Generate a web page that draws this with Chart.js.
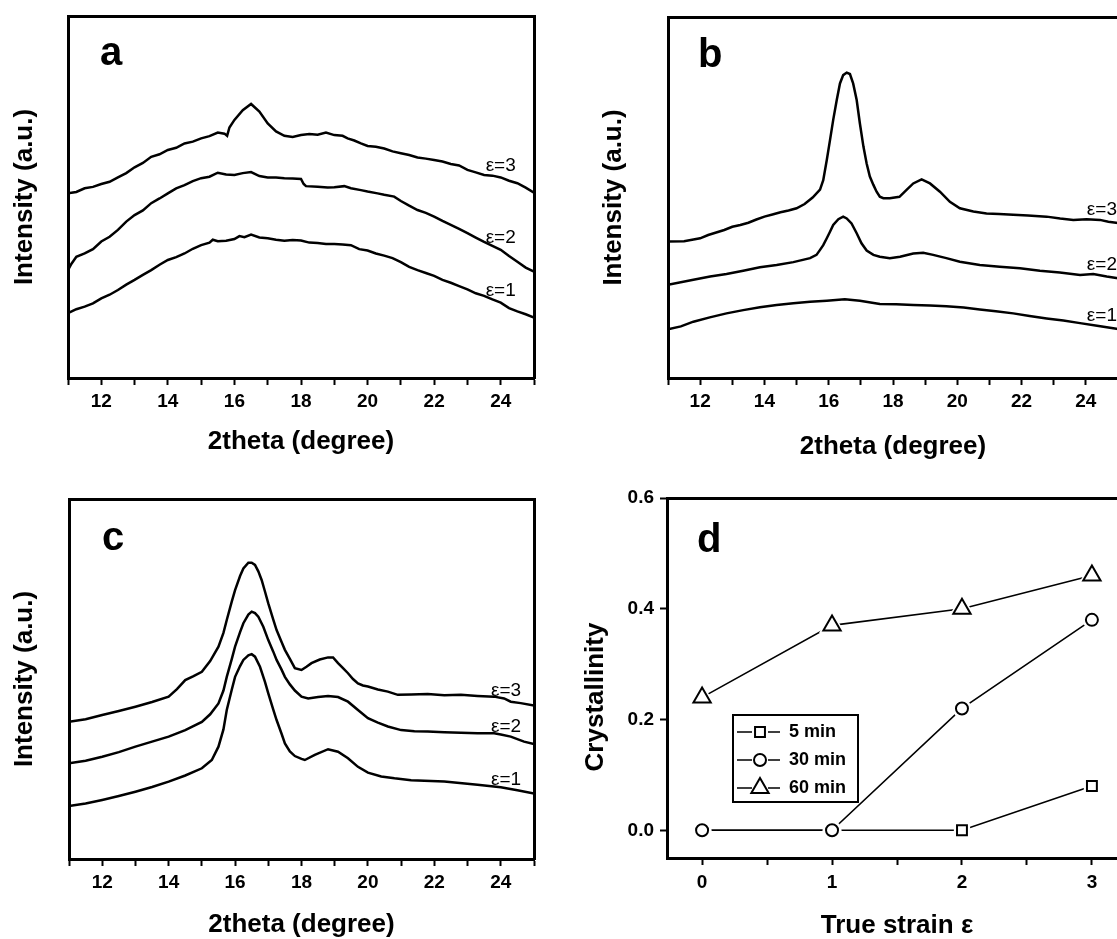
<!DOCTYPE html>
<html><head><meta charset="utf-8">
<script src="https://cdn.jsdelivr.net/npm/chart.js@4.4.1/dist/chart.umd.min.js"></script>
<style>
html,body{margin:0;padding:0;background:#fff;}
body{width:1117px;height:939px;overflow:hidden;position:relative;}
.p{position:absolute;}
</style></head><body>
<div class="p" style="left:0;top:0;width:560px;height:470px"><canvas id="ca"></canvas></div>
<div class="p" style="left:557px;top:0;width:600px;height:470px"><canvas id="cb"></canvas></div>
<div class="p" style="left:0;top:470px;width:560px;height:480px"><canvas id="cc"></canvas></div>
<div class="p" style="left:557px;top:470px;width:600px;height:480px"><canvas id="cd"></canvas></div>
<script>
// ================= DATA =================
const xrdTickVals = [11,12,13,14,15,16,17,18,19,20,21,22,23,24,25];
const xrdTickLabels = [12,14,16,18,20,22,24];
const xrdXTitle = '2theta (degree)';
const xrdYTitle = 'Intensity (a.u.)';
const curveNames = ['\u03b5=1','\u03b5=2','\u03b5=3'];

// panel a
const aX3 = [11,11.25,11.5,11.75,12,12.25,12.5,12.75,13,13.25,13.5,13.75,14,14.25,14.5,14.75,15,15.25,15.5,15.7,15.78,15.85,16,16.25,16.5,16.75,17,17.25,17.5,17.75,18,18.25,18.5,18.75,19,19.25,19.4,19.6,19.8,20,20.25,20.5,20.75,21,21.25,21.5,21.75,22,22.25,22.5,22.75,23,23.25,23.5,23.75,24,24.25,24.5,24.75,25];
const aY3 = [51.0,51.4,52.4,52.8,53.6,54.2,55.4,56.6,58.2,59.4,61.1,61.8,63.0,63.6,64.8,65.3,66.2,66.8,67.8,67.5,66.9,69.2,71.3,74.0,75.7,73.6,70.3,68.1,66.9,66.6,67.1,67.4,67.2,67.8,67.1,66.9,66.2,65.6,64.8,64.1,63.9,63.4,62.6,62.1,61.6,60.9,60.6,60.2,59.8,59.1,58.7,57.5,56.8,56.1,55.9,55.4,54.5,53.8,52.6,51.2];
const aX2 = [11,11.1,11.25,11.5,11.75,12,12.25,12.5,12.75,13,13.25,13.5,13.75,14,14.25,14.5,14.75,15,15.25,15.5,15.75,16,16.25,16.5,16.75,17,17.25,17.5,17.75,18,18.08,18.15,18.5,18.8,19,19.3,19.5,19.8,20,20.3,20.5,20.8,21,21.25,21.5,21.75,22,22.25,22.5,22.75,23,23.25,23.5,23.75,24,24.25,24.5,24.75,25];
const aY2 = [29.8,31.5,33.5,34.4,35.6,37.7,39.0,40.9,43.2,45.0,46.3,48.3,49.6,51.0,52.4,53.3,54.4,55.2,55.6,56.7,56.2,56.1,56.6,56.9,55.8,55.4,55.4,55.2,55.1,55.0,53.6,53.0,52.8,52.6,52.7,53.0,52.4,51.9,51.5,51.0,50.6,50.1,48.9,47.6,46.4,45.6,44.6,43.4,42.3,41.2,40.0,38.8,37.6,36.5,35.4,33.7,32.1,30.5,29.4];
const aX1 = [11,11.25,11.5,11.75,12,12.25,12.5,12.75,13,13.25,13.5,13.75,14,14.25,14.5,14.75,15,15.25,15.35,15.5,15.75,16,16.15,16.3,16.5,16.75,17,17.25,17.5,17.75,18,18.25,18.5,18.75,19,19.25,19.5,19.75,20,20.25,20.5,20.75,21,21.25,21.5,21.75,22,22.25,22.5,22.75,23,23.25,23.5,23.75,24,24.25,24.5,24.75,25];
const aY1 = [17.9,19.0,19.7,20.6,22.0,23.0,24.3,25.8,27.1,28.5,29.8,31.3,32.6,33.4,34.4,35.7,36.7,37.4,38.2,37.8,37.9,38.4,39.2,38.9,39.6,38.8,38.6,38.2,37.9,38.1,38.0,37.4,37.3,37.0,37.0,36.9,36.7,35.6,35.2,34.4,33.8,33.1,32.0,30.7,29.8,29.0,28.2,27.1,26.3,25.4,24.5,23.4,22.7,21.7,20.8,19.3,18.4,17.6,16.7];

// panel b
const bX3 = [11,11.5,12,12.25,12.5,12.75,13,13.25,13.5,13.75,14,14.25,14.5,14.75,15,15.25,15.5,15.73,15.83,15.94,16.04,16.14,16.25,16.35,16.45,16.56,16.66,16.76,16.87,16.97,17.08,17.18,17.28,17.39,17.49,17.59,17.7,17.9,18.2,18.43,18.63,18.89,19.15,19.46,19.77,20.08,20.5,20.91,21.3,21.74,22.2,22.78,23.2,23.61,24.02,24.44,24.7,25];
const bY3 = [37.8,37.9,38.7,39.6,40.3,41.0,41.9,42.4,43.0,43.9,44.7,45.3,45.9,46.4,47.0,48.2,50.0,52.2,54.8,60.4,65.9,71.5,77.0,81.6,83.9,84.6,84.2,81.6,77.0,70.5,64.1,59.4,55.8,53.5,51.6,50.2,49.8,49.8,50.2,52.2,53.9,55.0,53.9,51.6,48.8,47.0,46.1,45.6,45.4,45.2,45.0,44.7,44.2,43.8,44.0,43.8,43.3,42.9];
const bX2 = [11,11.79,12.31,12.82,13.34,13.86,14.38,14.9,15.42,15.62,15.73,15.83,15.94,16.04,16.14,16.3,16.45,16.56,16.71,16.87,17.02,17.18,17.39,17.59,17.9,18.22,18.63,18.94,19.25,19.66,20.08,20.7,21.32,21.95,22.57,23.19,23.82,24.23,24.65,25];
const bY2 = [25.8,27.2,28.1,28.8,29.7,30.7,31.3,32.1,33.2,34.1,35.5,36.8,38.7,40.5,42.4,44.0,44.7,44.2,42.8,40.1,37.3,35.3,34.1,33.6,33.2,33.6,34.5,34.7,34.1,33.2,32.2,31.3,30.8,30.4,29.7,29.2,28.5,28.8,28.1,27.6];
const bX1 = [11,11.4,11.79,12.3,12.82,13.34,13.86,14.38,14.9,15.42,15.94,16.5,16.97,17.59,18.1,18.63,19.15,19.66,20.2,20.7,21.2,21.74,22.25,22.78,23.3,23.82,24.35,24.85,25];
const bY1 = [13.5,14.3,15.6,16.8,17.9,18.8,19.6,20.2,20.7,21.1,21.4,21.8,21.4,20.5,20.4,20.2,20.1,19.9,19.5,19.0,18.5,17.9,17.2,16.5,15.9,15.2,14.5,13.8,13.6];

// panel c
const cX3 = [11,11.5,12,12.5,13,13.5,14,14.25,14.5,14.75,15,15.25,15.5,15.65,15.75,15.9,16,16.15,16.25,16.4,16.5,16.6,16.7,16.8,16.9,17,17.15,17.25,17.4,17.5,17.65,17.8,18,18.15,18.3,18.55,18.8,18.95,19.1,19.25,19.4,19.55,19.7,19.85,20,20.3,20.6,20.9,21.3,21.8,22.3,22.8,23.3,23.8,24.1,24.3,24.6,25];
const cY3 = [38.1,38.8,40.0,41.1,42.3,43.6,45.1,47.2,49.7,50.8,52.0,55.0,59.0,62.8,66.4,71.5,74.7,78.6,80.7,82.3,82.3,81.7,79.9,77.5,74.3,71.0,66.5,63.6,60.3,58.1,55.6,53.0,52.5,53.4,54.4,55.4,56.0,56.0,54.4,53.0,51.6,50.0,48.8,48.2,47.9,47.1,46.5,45.6,45.7,45.8,45.5,45.6,45.3,45.1,44.6,43.7,43.3,42.6];
const cX2 = [11,11.5,12,12.5,13,13.5,14,14.5,15,15.25,15.5,15.65,15.75,15.9,16,16.15,16.25,16.4,16.5,16.6,16.7,16.85,17,17.15,17.25,17.4,17.5,17.65,17.8,18,18.2,18.5,18.8,19.1,19.4,19.7,20,20.3,20.6,21,21.4,21.8,22.3,22.8,23.3,23.8,24,24.3,24.7,25];
const cY2 = [26.6,27.3,28.4,29.7,31.2,32.6,34.0,35.8,38.1,40.2,43.2,46.8,50.6,55.5,59.0,63.0,65.5,67.9,68.7,68.3,67.3,64.5,60.8,57.6,55.3,52.6,50.6,48.5,46.8,45.1,44.6,45.0,45.3,45.0,43.7,41.4,39.1,37.9,36.8,35.8,35.5,35.4,35.2,35.1,34.9,34.9,34.6,34.0,32.6,31.9];
const cX1 = [11,11.5,12,12.5,13,13.5,14,14.5,15,15.3,15.5,15.65,15.75,15.9,16,16.15,16.25,16.4,16.5,16.6,16.75,16.9,17,17.15,17.25,17.4,17.5,17.65,17.8,18,18.1,18.4,18.8,19.1,19.4,19.7,20,20.4,20.8,21.3,22.3,23.3,24,24.5,25];
const cY1 = [14.7,15.4,16.4,17.5,18.7,20.0,21.5,23.2,25.2,27.5,31.2,36.0,41.4,47.0,50.6,53.6,55.3,56.6,56.9,56.2,53.4,49.2,46.0,41.5,38.6,34.8,32.1,29.9,28.6,27.8,27.5,28.9,30.5,29.8,28.0,25.6,24.0,22.9,22.4,21.9,21.5,20.6,19.9,19.1,18.2];

// panel d
const strain = [0,1,2,3];
const cryst5 = [0,0,0,0.08];
const cryst30 = [0,0,0.22,0.38];
const cryst60 = [0.24,0.37,0.40,0.46];
const seriesNames = ['5 min','30 min','60 min'];
const strainTickVals = [0,0.5,1,1.5,2,2.5,3];
const strainTickLabels = [0,1,2,3];
const crystTickVals = [0,0.2,0.4,0.6];
const dXTitle = 'True strain \u03b5';
const dYTitle = 'Crystallinity';

// ================= STYLE / LAYOUT =================
const FONT = "'Liberation Sans', Arial, Helvetica, sans-serif";
Chart.defaults.font.family = FONT;
Chart.defaults.color = '#000';

const decor = {
  ca: { letter: {t:'a', x:100, y:65}, clX: 24.0, clOff: 12 },
  cb: { letter: {t:'b', x:141, y:67}, clX: 24.5, clOff: 11 },
  cc: { letter: {t:'c', x:102, y:80}, clX: 24.16, clOff: 9 },
  cd: { letter: {t:'d', x:140, y:82}, yTitle: {x:39, y:227},
        legend: {x:176, y:245, w:125, h:87, rows:[262,290,318], lineL:[180,195], mark:203, lineR:[211,223], textX:232} }
};

function toPts(xs, ys) {
  const n = Math.min(xs.length, ys.length);
  const out = [];
  for (let i = 0; i < n; i++) out.push({x: xs[i], y: ys[i]});
  return out;
}

function frame(pos) {
  return { type: 'linear', position: pos, display: true, min: 0, max: 1,
    ticks: { display: false }, grid: { display: false, drawTicks: false },
    border: { display: true, color: '#000', width: 3 },
    afterFit: s => { if (pos === 'top' || pos === 'bottom') s.height = 0; else s.width = 0; } };
}

const annotPlugin = {
  id: 'annot',
  afterDraw(chart) {
    const d = decor[chart.canvas.id];
    if (!d) return;
    const ctx = chart.ctx;
    ctx.save();
    ctx.fillStyle = '#000';
    if (d.clX !== undefined) {
      const xs = chart.scales.x, ys = chart.scales.y;
      ctx.font = '19px ' + FONT;
      ctx.textAlign = 'center';
      ctx.textBaseline = 'middle';
      chart.data.datasets.forEach(ds => {
        const p = ds.data;
        let yv = p[p.length - 1].y;
        for (let k = 0; k < p.length - 1; k++) {
          if (p[k].x <= d.clX && p[k + 1].x >= d.clX) {
            const t = (d.clX - p[k].x) / (p[k + 1].x - p[k].x);
            yv = p[k].y + t * (p[k + 1].y - p[k].y);
            break;
          }
        }
        ctx.fillText(ds.label, xs.getPixelForValue(d.clX), ys.getPixelForValue(yv) - d.clOff);
      });
    }
    if (d.letter) {
      ctx.font = 'bold 40px ' + FONT;
      ctx.textAlign = 'left';
      ctx.textBaseline = 'alphabetic';
      ctx.fillText(d.letter.t, d.letter.x, d.letter.y);
    }
    if (d.yTitle) {
      ctx.save();
      ctx.translate(d.yTitle.x, d.yTitle.y);
      ctx.rotate(-Math.PI / 2);
      ctx.font = 'bold 26px ' + FONT;
      ctx.textAlign = 'center';
      ctx.textBaseline = 'middle';
      ctx.fillText(dYTitle, 0, 0);
      ctx.restore();
    }
    if (d.legend) {
      const L = d.legend;
      ctx.lineWidth = 2;
      ctx.strokeStyle = '#000';
      ctx.strokeRect(L.x, L.y, L.w, L.h);
      const markerSets = chart.data.datasets.filter(ds => ds.role === 'marker');
      markerSets.forEach((ds, i) => {
        const y = L.rows[i];
        ctx.strokeStyle = '#000';
        ctx.lineWidth = 1.6;
        ctx.beginPath();
        ctx.moveTo(L.lineL[0], y); ctx.lineTo(L.lineL[1], y);
        ctx.moveTo(L.lineR[0], y); ctx.lineTo(L.lineR[1], y);
        ctx.stroke();
        ctx.fillStyle = '#fff';
        ctx.lineWidth = 2;
        if (Chart.helpers && Chart.helpers.drawPoint) {
          Chart.helpers.drawPoint(ctx, {pointStyle: ds.pointStyle, radius: ds.pointRadius, rotation: 0, borderWidth: 2}, L.mark, y);
        }
        ctx.fillStyle = '#000';
        ctx.font = 'bold 18px ' + FONT;
        ctx.textAlign = 'left';
        ctx.textBaseline = 'middle';
        ctx.fillText(ds.label, L.textX, y);
      });
    }
    ctx.restore();
  }
};

function xrdChart(id, curves, g) {
  return new Chart(document.getElementById(id), {
    type: 'line',
    data: { datasets: curves.map((c, i) => ({
      label: curveNames[i], data: toPts(c[0], c[1]), xAxisID: 'x', yAxisID: 'y',
      borderColor: '#000', borderWidth: 2.5, pointRadius: 0, fill: false, tension: 0
    })) },
    options: {
      responsive: true, maintainAspectRatio: false, animation: false, events: [],
      layout: { padding: { left: 0, top: g.top, right: g.right, bottom: 0 } },
      plugins: { legend: { display: false }, tooltip: { enabled: false } },
      scales: {
        x: {
          type: 'linear', position: 'bottom', min: 11, max: 25,
          afterBuildTicks: s => { s.ticks = xrdTickVals.map(v => ({value: v})); },
          ticks: { autoSkip: false, maxRotation: 0, padding: 5, color: '#000',
                   font: { size: 19, weight: 'bold' },
                   callback: v => xrdTickLabels.includes(v) ? String(v) : '' },
          grid: { display: true, drawOnChartArea: false, drawTicks: true, tickLength: 7, tickWidth: 2, color: '#000' },
          border: { display: true, color: '#000', width: 3 },
          title: { display: true, text: xrdXTitle, color: '#000', font: { size: 26, weight: 'bold' }, padding: { top: 0, bottom: g.xTitlePad } },
          afterFit: s => { s.height = g.xHeight; }
        },
        y: {
          type: 'linear', position: 'left', min: 0, max: 100,
          ticks: { display: false },
          grid: { display: false },
          border: { display: true, color: '#000', width: 3 },
          title: { display: true, text: xrdYTitle, color: '#000', font: { size: 26, weight: 'bold' }, padding: { top: g.yTitlePad, bottom: 0 } },
          afterFit: s => { s.width = g.yWidth; }
        },
        x2: frame('top'),
        y2: frame('right')
      }
    },
    plugins: [annotPlugin]
  });
}

xrdChart('ca', [[aX1, aY1], [aX2, aY2], [aX3, aY3]],
  { top: 16, right: 26, yWidth: 68, xHeight: 92, yTitlePad: 9.4, xTitlePad: 12.4 });
xrdChart('cb', [[bX1, bY1], [bX2, bY2], [bX3, bY3]],
  { top: 17, right: 39, yWidth: 111, xHeight: 92, yTitlePad: 41.4, xTitlePad: 7.4 });
xrdChart('cc', [[cX1, cY1], [cX2, cY2], [cX3, cY3]],
  { top: 29, right: 26, yWidth: 69, xHeight: 91, yTitlePad: 9.4, xTitlePad: 9.4 });

// ---- panel d ----
const dSeries = [
  { name: seriesNames[0], ys: cryst5,  style: 'rect',     r: 7,  gap: 4.5 },
  { name: seriesNames[1], ys: cryst30, style: 'circle',   r: 6,  gap: 3.5 },
  { name: seriesNames[2], ys: cryst60, style: 'triangle', r: 10, gap: 5 }
];
const dDatasets = [];
dSeries.forEach((s, k) => {
  const pts = toPts(strain, s.ys);
  const base = 9 - 3 * k;
  dDatasets.push({ label: s.name + ' line', role: 'line', data: pts, xAxisID: 'x', yAxisID: 'y',
    showLine: true, borderColor: '#000', borderWidth: 1.6, pointRadius: 0, fill: false, tension: 0, order: base });
  dDatasets.push({ label: s.name + ' mask', role: 'mask', data: pts, xAxisID: 'x', yAxisID: 'y',
    showLine: false, pointStyle: s.style, pointRadius: s.r + s.gap, pointBackgroundColor: '#fff',
    pointBorderColor: '#fff', pointBorderWidth: 0, order: base - 1 });
  dDatasets.push({ label: s.name, role: 'marker', data: pts, xAxisID: 'x', yAxisID: 'y',
    showLine: false, pointStyle: s.style, pointRadius: s.r, pointBackgroundColor: '#fff',
    pointBorderColor: '#000', pointBorderWidth: 2, order: base - 2 });
});

new Chart(document.getElementById('cd'), {
  type: 'line',
  data: { datasets: dDatasets },
  options: {
    responsive: true, maintainAspectRatio: false, animation: false, events: [],
    layout: { padding: { left: 0, top: 28, right: 30, bottom: 0 } },
    plugins: { legend: { display: false }, tooltip: { enabled: false } },
    scales: {
      x: {
        type: 'linear', position: 'bottom', min: -0.27, max: 3.27,
        afterBuildTicks: s => { s.ticks = strainTickVals.map(v => ({value: v})); },
        ticks: { autoSkip: false, maxRotation: 0, padding: 6, color: '#000', font: { size: 19, weight: 'bold' },
                 callback: v => strainTickLabels.includes(v) ? String(v) : '' },
        grid: { display: true, drawOnChartArea: false, drawTicks: true, tickLength: 7, tickWidth: 2, color: '#000' },
        border: { display: true, color: '#000', width: 3 },
        title: { display: true, text: dXTitle, color: '#000', font: { size: 26, weight: 'bold' }, padding: { top: 0, bottom: 8.4 } },
        afterFit: s => { s.height = 92; }
      },
      y: {
        type: 'linear', position: 'left', min: -0.05, max: 0.6,
        afterBuildTicks: s => { s.ticks = crystTickVals.map(v => ({value: v})); },
        ticks: { padding: 6, color: '#000', font: { size: 19, weight: 'bold' }, callback: v => Number(v).toFixed(1) },
        grid: { display: true, drawOnChartArea: false, drawTicks: true, tickLength: 7, tickWidth: 2, color: '#000' },
        border: { display: true, color: '#000', width: 3 },
        title: { display: false },
        afterFit: s => { s.width = 110; }
      },
      x2: frame('top'),
      y2: frame('right')
    }
  },
  plugins: [annotPlugin]
});
</script>
</body></html>
